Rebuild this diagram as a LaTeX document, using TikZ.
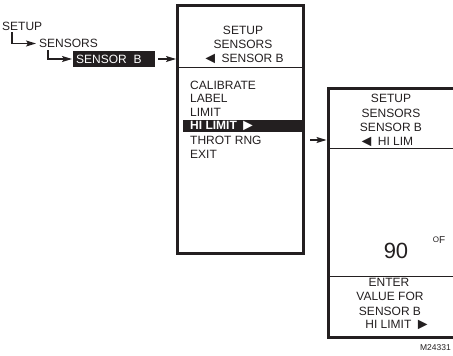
\documentclass[tikz,border=0pt]{standalone}
\usepackage{fontspec}
\setmainfont{Liberation Sans}
\usetikzlibrary{arrows.meta}
\definecolor{ink}{HTML}{231F20}
\newcommand{\tril}{{\fontsize{16}{12}\selectfont\raisebox{-1pt}{◄}}}
\newcommand{\trir}{{\fontsize{16}{12}\selectfont\raisebox{-1pt}{►}}}
\begin{document}
\begin{tikzpicture}[x=1pt,y=-1pt,
  txt/.style={inner sep=0pt,text=ink,font=\fontsize{12}{13}\selectfont},
  ltxt/.style={txt,anchor=west},
  frame/.style={draw=ink,line width=3pt},
  thin/.style={draw=ink,line width=1pt},
  arr/.style={draw=ink,line width=1.1pt,-{Stealth[length=10pt,width=6pt,inset=2pt]}},
  hilite/.style={fill=ink,inner sep=0pt}]
\useasboundingbox (0,0) rectangle (453,356);
\clip (0,0) rectangle (453,356);
% left breadcrumb
\node[ltxt] (setup) at (2,26) {SETUP};
\node[ltxt] (sensors) at (39,43.5) {SENSORS};
\node[hilite,minimum width=82pt,minimum height=16pt,anchor=west] (sbox) at (73,59) {};
\node[ltxt,text=white] (sb) at (76,59) {SENSOR\ \ B};
\coordinate (e1) at (12,32);
\coordinate (e2) at (48,50);
\draw[arr] (e1) |- ([xshift=-3pt]sensors.west);
\draw[arr] (e2) |- ([xshift=-1pt]sbox.west);
% middle box
\draw[frame] (177,5) rectangle (303,253);
\coordinate (mL) at (177,67);
\coordinate (mR) at (303,67);
\draw[thin] (mL) -- (mR);
\coordinate (mIn) at (176,59);
\draw[arr] ([xshift=3pt]sbox.east) -- (mIn);
\node[txt] (m1) at (243,30) {SETUP};
\node[txt] (m2) at (243,44.5) {SENSORS};
\node[txt] (m3) at (243,59) {\tril\ SENSOR B};
\node[ltxt] (c1) at (190,85) {CALIBRATE};
\node[ltxt] (c2) at (190,98.5) {LABEL};
\node[ltxt] (c3) at (190,112) {LIMIT};
\node[hilite,minimum width=119pt,minimum height=12.5pt,anchor=west] (hl) at (183,126) {};
\node[ltxt,text=white,font=\fontsize{12}{13}\selectfont\bfseries] (c4) at (190,126) {HI LIMIT \trir};
\node[ltxt] (c5) at (190,140) {THROT RNG};
\node[ltxt] (c6) at (190,154) {EXIT};
% right box
\draw[frame] (460,88) -- (328,88) -- (328,337) -- (460,337);
\draw[thin] (328,148) -- (460,148);
\draw[thin] (328,276) -- (460,276);
\coordinate (rOut) at (310,140);
\coordinate (rIn) at (326.5,140);
\draw[arr] (rOut) -- (rIn);
\node[txt] (r1) at (391,98) {SETUP};
\node[txt] (r2) at (391,113) {SENSORS};
\node[txt] (r3) at (391,127.5) {SENSOR B};
\node[txt] (r4) at (386,142) {\tril\ HI LIM};
\node[txt,font=\fontsize{22}{24}\selectfont] (val) at (396,251) {90};
\node[txt,font=\fontsize{10}{10}\selectfont] (unit) at (439,240) {\raisebox{1pt}{\fontsize{8}{8}\selectfont O}F};
\node[txt] (b1) at (389,282) {ENTER};
\node[txt] (b2) at (390,296.5) {VALUE FOR};
\node[txt] (b3) at (390,311) {SENSOR B};
\node[txt] (b4) at (398,325) {HI LIMIT \trir};
\node[txt,font=\fontsize{8.5}{9}\selectfont] (tag) at (435.5,347.5) {M24331};
\end{tikzpicture}
\end{document}
